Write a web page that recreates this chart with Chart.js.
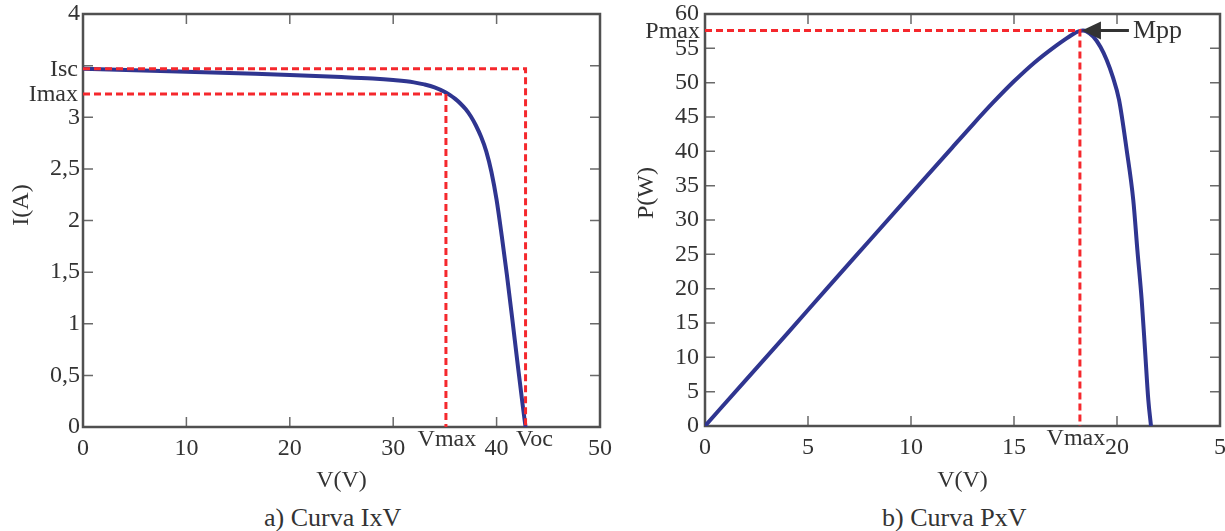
<!DOCTYPE html>
<html><head><meta charset="utf-8">
<script src="https://cdn.jsdelivr.net/npm/chart.js@4/dist/chart.umd.min.js"></script>
<style>
html,body{margin:0;padding:0;background:#fff;}
body{width:1225px;height:531px;position:relative;overflow:hidden;font-family:"Liberation Serif",serif;}
canvas{position:absolute;top:0;}
#c1{left:0;}
#c2{left:612px;}
.cap{position:absolute;top:503px;font-size:26px;color:#333;line-height:30px;white-space:nowrap;font-family:"Liberation Serif",serif;}
</style></head>
<body>
<canvas id="c1" width="612" height="500"></canvas>
<canvas id="c2" width="613" height="500"></canvas>
<div class="cap" style="left:264px">a) Curva IxV</div>
<div class="cap" style="left:882px">b) Curva PxV</div>
<script>
// ---- Data: I-V curve ----
const ivV = [0, 5, 10, 15, 20, 25, 28, 30, 32, 33, 34, 35, 35.5, 36, 36.5, 37, 37.5, 38, 38.5, 39, 39.5, 40, 40.5, 41, 41.5, 42, 42.5, 42.8];
const ivI = [3.47, 3.455, 3.44, 3.425, 3.41, 3.39, 3.375, 3.36, 3.338, 3.318, 3.29, 3.245, 3.215, 3.178, 3.133, 3.08, 3.01, 2.92, 2.81, 2.67, 2.47, 2.2, 1.85, 1.47, 1.06, 0.64, 0.23, 0];
const ivIsc = 3.47, ivImax = 3.225, ivVmax = 35.1, ivVoc = 42.8;
const ivXTickVals = [0, 10, 20, 30, 40, 50];
const ivXTickLabels = ['0', '10', '20', '30', '40', '50'];
const ivYTickVals = [0, 0.5, 1, 1.5, 2, 2.5, 3, 4];
const ivYTickLabels = ['0', '0,5', '1', '1,5', '2', '2,5', '3', '4'];
const ivXMarks = [10, 20, 30, 40];
const ivYMarks = [0.5, 1, 1.5, 2, 2.5, 3, 3.5];

// ---- Data: P-V curve ----
const pvV = [0, 2, 4, 6, 8, 10, 12, 13, 14, 15, 16, 17, 17.5, 17.8, 18, 18.2, 18.35, 18.5, 18.85, 19.2, 19.5, 19.8, 20.1, 20.47, 20.79, 20.99, 21.2, 21.36, 21.52, 21.65];
const pvP = [0, 6.76, 13.5, 20.3, 27.05, 33.8, 40.55, 43.9, 47.15, 50.2, 52.95, 55.3, 56.35, 56.95, 57.3, 57.55, 57.6, 57.5, 56.7, 55.2, 53.3, 50.8, 47.5, 40.2, 32.9, 25.6, 18.3, 11.1, 3.8, 0];
const pvPmax = 57.6, pvVmax = 18.2;
const pvXTickVals = [0, 5, 10, 15, 20, 25];
const pvXTickLabels = ['0', '5', '10', '15', '20', '5'];
const pvYTickVals = [0, 5, 10, 15, 20, 25, 30, 35, 40, 45, 50, 55, 60];
const pvYTickLabels = ['0', '5', '10', '15', '20', '25', '30', '35', '40', '45', '50', '55', '60'];
const pvXMarks = [5, 10, 15, 20];
const pvYMarks = [5, 10, 15, 20, 25, 30, 35, 40, 45, 50, 55];

const FONT = '"Liberation Serif", serif';
const TXT = '#333';
const BLUE = '#2f3590';
const RED = '#f5282d';

function pts(xs, ys) { return xs.map((x, i) => ({x: x, y: ys[i]})); }

// frame, inward tick marks, y-axis title and the special point labels
function framePlugin(xMarks, yMarks, yTitle, yTitlePos, notes) {
  return {
    id: 'frame',
    beforeDatasetsDraw(chart) {
      const {ctx, chartArea: a, scales: {x, y}} = chart;
      ctx.save();
      ctx.strokeStyle = '#6a6a6a';
      ctx.lineWidth = 1.5;
      const L = 10;
      ctx.beginPath();
      xMarks.forEach(v => {
        const p = x.getPixelForValue(v);
        ctx.moveTo(p, a.bottom); ctx.lineTo(p, a.bottom - L);
        ctx.moveTo(p, a.top); ctx.lineTo(p, a.top + L);
      });
      yMarks.forEach(v => {
        const p = y.getPixelForValue(v);
        ctx.moveTo(a.left, p); ctx.lineTo(a.left + L, p);
        ctx.moveTo(a.right, p); ctx.lineTo(a.right - L, p);
      });
      ctx.stroke();
      ctx.strokeStyle = '#505050';
      ctx.lineWidth = 2.5;
      ctx.strokeRect(a.left, a.top, a.right - a.left, a.bottom - a.top);
      ctx.restore();
    },
    afterDraw(chart) {
      const {ctx, chartArea: a, scales: {x, y}} = chart;
      ctx.save();
      ctx.fillStyle = TXT;
      ctx.font = '24px ' + FONT;
      // y-axis title
      ctx.save();
      ctx.translate(yTitlePos[0], yTitlePos[1]);
      ctx.rotate(-Math.PI / 2);
      ctx.textAlign = 'center';
      ctx.textBaseline = 'middle';
      ctx.fillText(yTitle, 0, 0);
      ctx.restore();
      // labels for the marked values
      notes.forEach(n => {
        ctx.textBaseline = 'middle';
        if (n.axis === 'y') {
          ctx.textAlign = 'right';
          ctx.fillText(n.text, a.left - 5, y.getPixelForValue(n.value) + 1);
        } else {
          ctx.textAlign = 'center';
          ctx.fillText(n.text, x.getPixelForValue(n.value) + n.dx, a.bottom + 13);
        }
      });
      ctx.restore();
    }
  };
}

function axisOpts(min, max, vals, labels, isX, title, opts) {
  return {
    type: 'linear', min: min, max: max,
    afterBuildTicks: s => { s.ticks = vals.map(v => ({value: v})); },
    afterFit: s => {
      if (isX) { s.height = opts.size; s.paddingLeft = 0; s.paddingRight = 0; }
      else { s.width = opts.size; s.paddingTop = 0; s.paddingBottom = 0; }
    },
    grid: {display: false, drawTicks: false},
    border: {display: false},
    ticks: {
      autoSkip: false, maxRotation: 0, color: TXT,
      font: {family: FONT, size: 24},
      padding: opts.pad,
      callback: (v) => { const i = vals.indexOf(v); return i >= 0 ? labels[i] : ''; }
    },
    title: {display: !!title, text: title, color: TXT, font: {family: FONT, size: 24}, padding: {top: 0, bottom: 5}}
  };
}

// ---- Left chart ----
new Chart(document.getElementById('c1'), {
  type: 'scatter',
  data: {
    datasets: [
      {data: [{x: 0, y: ivIsc}, {x: ivVoc, y: ivIsc}, {x: ivVoc, y: 0}], showLine: true, borderColor: RED, borderWidth: 3, borderDash: [7, 4], pointRadius: 0, order: 0},
      {data: [{x: 0, y: ivImax}, {x: ivVmax, y: ivImax}, {x: ivVmax, y: 0}], showLine: true, borderColor: RED, borderWidth: 3, borderDash: [7, 4], pointRadius: 0, order: 0},
      {data: pts(ivV, ivI), showLine: true, borderColor: BLUE, borderWidth: 4, pointRadius: 0, cubicInterpolationMode: 'monotone', order: 1}
    ]
  },
  options: {
    responsive: false, animation: false, devicePixelRatio: 1,
    layout: {padding: {top: 14, right: 12, left: 0, bottom: 0}},
    plugins: {legend: {display: false}, tooltip: {enabled: false}},
    scales: {
      x: axisOpts(0, 50, ivXTickVals, ivXTickLabels, true, 'V(V)', {size: 73, pad: 7}),
      y: axisOpts(0, 4, ivYTickVals, ivYTickLabels, false, '', {size: 83, pad: 3})
    }
  },
  plugins: [framePlugin(ivXMarks, ivYMarks, 'I(A)', [22, 205], [
    {axis: 'y', value: ivIsc, text: 'Isc'},
    {axis: 'y', value: ivImax, text: 'Imax'},
    {axis: 'x', value: ivVmax, text: 'Vmax', dx: 1},
    {axis: 'x', value: ivVoc, text: 'Voc', dx: 9}
  ])]
});

// ---- Right chart ----
const mppPlugin = {
  id: 'mpp',
  afterDatasetsDraw(chart) {
    const {ctx, scales: {x, y}} = chart;
    const px = x.getPixelForValue(pvVmax) + 2, py = y.getPixelForValue(pvPmax);
    ctx.save();
    ctx.fillStyle = '#333';
    ctx.strokeStyle = '#333';
    ctx.beginPath();
    ctx.moveTo(px, py); ctx.lineTo(px + 19, py - 9); ctx.lineTo(px + 19, py + 9); ctx.closePath();
    ctx.fill();
    ctx.lineWidth = 3;
    ctx.beginPath(); ctx.moveTo(px + 18, py); ctx.lineTo(px + 47, py); ctx.stroke();
    ctx.font = '26px ' + FONT;
    ctx.textBaseline = 'alphabetic';
    ctx.textAlign = 'left';
    ctx.fillText('Mpp', px + 51, py + 8);
    ctx.restore();
  }
};

new Chart(document.getElementById('c2'), {
  type: 'scatter',
  data: {
    datasets: [
      {data: [{x: 0, y: pvPmax}, {x: pvVmax, y: pvPmax}, {x: pvVmax, y: 0}], showLine: true, borderColor: RED, borderWidth: 3, borderDash: [7, 4], pointRadius: 0, order: 0},
      {data: pts(pvV, pvP), showLine: true, borderColor: BLUE, borderWidth: 4, pointRadius: 0, cubicInterpolationMode: 'monotone', order: 1}
    ]
  },
  options: {
    responsive: false, animation: false, devicePixelRatio: 1,
    layout: {padding: {top: 14, right: 5, left: 0, bottom: 0}},
    plugins: {legend: {display: false}, tooltip: {enabled: false}},
    scales: {
      x: axisOpts(0, 25, pvXTickVals, pvXTickLabels, true, 'V(V)', {size: 74, pad: 7}),
      y: axisOpts(0, 60, pvYTickVals, pvYTickLabels, false, '', {size: 93, pad: 6})
    }
  },
  plugins: [framePlugin(pvXMarks, pvYMarks, 'P(W)', [35, 193], [
    {axis: 'y', value: pvPmax, text: 'Pmax'},
    {axis: 'x', value: pvVmax, text: 'Vmax', dx: -4}
  ]), mppPlugin]
});
</script>
</body></html>
